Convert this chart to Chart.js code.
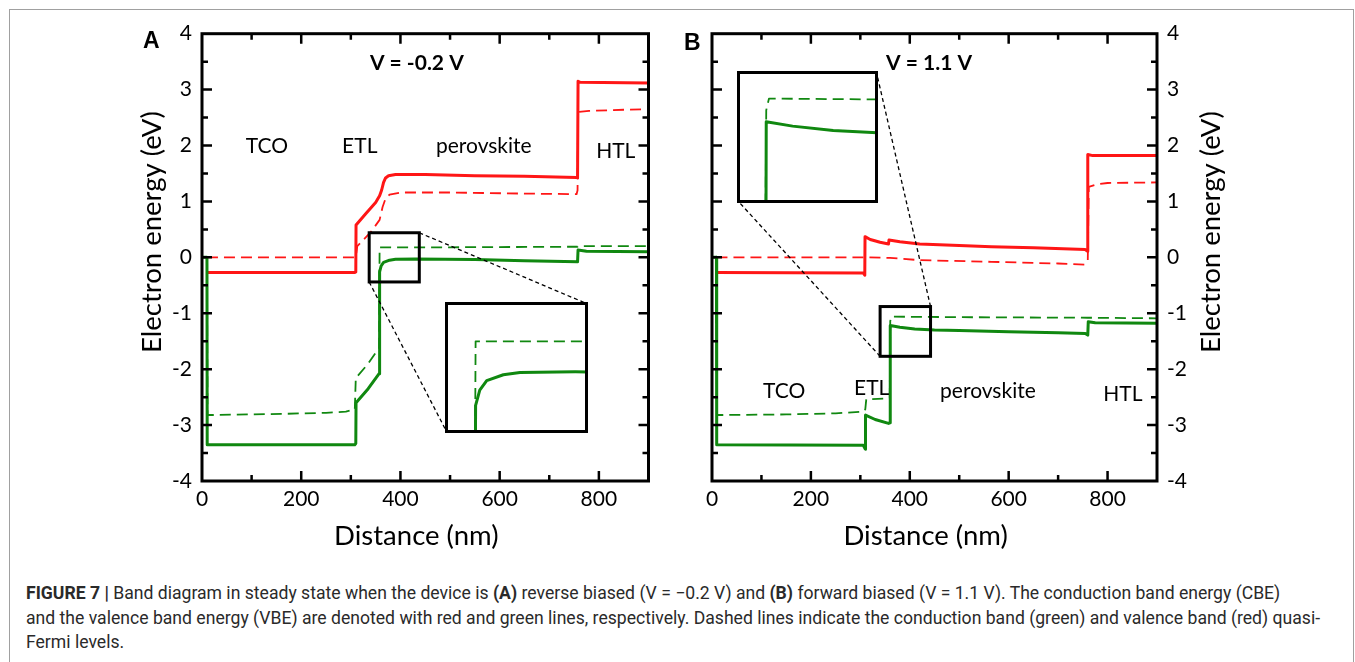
<!DOCTYPE html>
<html>
<head>
<meta charset="utf-8">
<title>Band diagram in steady state</title>
<script src="https://cdn.jsdelivr.net/npm/chart.js@4.4.1/dist/chart.umd.min.js"></script>
<style>
  html, body { margin: 0; padding: 0; background: #fff; }
  body { width: 1355px; height: 662px; position: relative; overflow: hidden; }
  .frame { position: absolute; left: 9px; top: 9px; width: 1343px; height: 720px; border: 1px solid #a0a0a0; }
  canvas { position: absolute; }
  #bandA { left: 0; top: 0; }
  #bandB { left: 680px; top: 0; }
  .panel { position: absolute; font: bold 23px Arial, "Liberation Sans", sans-serif; line-height: 23px; color: #000; }
  .caption { position: absolute; left: 26px; top: 581px; font: 17.6px Roboto, sans-serif; line-height: 24.5px; color: #2a2a2a; white-space: nowrap; }
</style>
</head>
<body>
<div class="frame"></div>
<canvas id="bandA" width="680" height="560"></canvas>
<canvas id="bandB" width="675" height="560"></canvas>
<canvas id="zoomA"></canvas>
<canvas id="zoomB"></canvas>
<div class="panel" style="left:143px; top:29px">A</div>
<div class="panel" style="left:684px; top:31px">B</div>
<div class="caption"><b>FIGURE 7 |</b> Band diagram in steady state when the device is <b>(A)</b> reverse biased (V = −0.2 V) and <b>(B)</b> forward biased (V = 1.1 V). The conduction band energy (CBE)<br>and the valence band energy (VBE) are denoted with red and green lines, respectively. Dashed lines indicate the conduction band (green) and valence band (red) quasi-<br>Fermi levels.</div>

<script>
// ---- data: [distance (nm), energy (eV)] ----

// (A) reverse bias, V = -0.2 V
const cbeA = [[10, -0.27], [308, -0.27], [310, -0.26], [310.5, 0.58], [330, 0.78], [350, 0.98], [358, 1.1],
  [362, 1.2], [366, 1.34], [370, 1.42], [376, 1.46], [390, 1.48], [450, 1.48], [550, 1.46], [650, 1.45],
  [755, 1.43], [757, 1.42], [758, 3.15], [762, 3.13], [900, 3.12]];
const valenceFermiA = [[10, 0], [310, 0], [313, 0.2], [340, 0.45], [358, 0.67], [364, 0.9], [370, 1.05],
  [378, 1.12], [400, 1.16], [500, 1.16], [650, 1.14], [755, 1.13], [757, 1.2], [758, 2.6], [780, 2.62],
  [850, 2.64], [900, 2.65]];
const vbeA = [[0, 0], [10, 0], [10.5, -3.35], [308, -3.35], [310, -3.33], [310.5, -2.6], [335, -2.35],
  [357, -2.08], [358, -0.26], [361, -0.155], [366, -0.09], [378, -0.05], [390, -0.035], [430, -0.03],
  [550, -0.04], [650, -0.06], [757, -0.08], [758, 0.13], [775, 0.11], [900, 0.1]];
const conductionFermiA = [[10, 0], [11, -2.82], [20, -2.82], [160, -2.8], [250, -2.78], [290, -2.76],
  [308, -2.72], [310, -2.16], [335, -1.9], [357, -1.62], [358, 0.18], [500, 0.18], [757, 0.19],
  [758, 0.2], [900, 0.2]];

// (B) forward bias, V = 1.1 V
const cbeB = [[9, -0.27], [306, -0.28], [309, -0.32], [309.5, 0.37], [320, 0.32], [340, 0.27], [357, 0.24],
  [358, 0.31], [380, 0.28], [420, 0.24], [500, 0.21], [565, 0.19], [650, 0.17], [755, 0.14], [759, 0.11],
  [760, 1.84], [770, 1.82], [900, 1.82]];
const valenceFermiB = [[9, 0], [310, 0], [360, -0.01], [420, -0.05], [565, -0.08], [700, -0.11],
  [754, -0.13], [760, -0.05], [762, 1.26], [780, 1.31], [800, 1.33], [900, 1.34]];
const vbeB = [[0, 0], [9, 0], [9.5, -3.35], [306, -3.36], [310, -3.43], [310.5, -2.82], [330, -2.9],
  [357, -2.97], [360, -2.96], [360.5, -1.22], [380, -1.25], [410, -1.28], [450, -1.3], [500, -1.31],
  [600, -1.33], [700, -1.35], [755, -1.36], [760, -1.39], [761, -1.15], [775, -1.17], [900, -1.18]];
const conductionFermiB = [[9, 0], [10, -2.82], [20, -2.82], [150, -2.81], [250, -2.79], [305, -2.76],
  [310, -2.72], [312, -2.54], [359.5, -2.52], [360.5, -1.14], [362.5, -1.06], [500, -1.07], [760, -1.08],
  [900, -1.09]];

// magnified windows (nm, eV)
const zoomRangeA = { x: [337, 438], y: [-0.44, 0.44] };
const zoomRangeB = { x: [340, 442], y: [-1.77, -0.88] };

// axes
const distanceRange = [0, 900];
const energyRange = [-4, 4];

// ---- styling / layout ----
const RED = 'rgb(255, 22, 22)';
const GREEN = 'rgb(16, 136, 16)';
const tickFont = { family: 'Lato', size: 21 };
const titleSize = 27.5;

// page positions of the magnified boxes (line centres)
const insetA = { left: 446.5, top: 303.5, right: 586.5, bottom: 431.5 };
const insetB = { left: 738.5, top: 72.5, right: 876.5, bottom: 201.5 };

function line(points, color, dashed) {
  return {
    data: points.map(([x, y]) => ({ x, y })),
    borderColor: color,
    borderWidth: dashed ? 1.8 : 3,
    borderDash: dashed ? [11, 6] : [],
    borderJoinStyle: 'round',
    pointRadius: 0,
    tension: 0,
    fill: false
  };
}

function midpoints(vals) {
  const out = [];
  for (let i = 0; i < vals.length - 1; i++) out.push((vals[i] + vals[i + 1]) / 2);
  return out;
}

// frame, inward ticks, labels, zoom box + connectors, axis titles
function bandDecor(cfg) {
  return {
    id: 'bandDecor',
    afterDatasetsDraw(chart) {
      const { ctx, chartArea: a, scales: { x, y } } = chart;
      ctx.save();

      // region / bias labels
      ctx.fillStyle = '#000';
      ctx.textAlign = 'center';
      ctx.textBaseline = 'alphabetic';
      cfg.notes.forEach(n => {
        ctx.font = (n.bold ? 'bold ' : '') + (n.size || 21) + 'px Lato';
        ctx.fillText(n.text, x.getPixelForValue(n.x), y.getPixelForValue(n.y));
      });

      // zoom window + dashed connectors to the inset
      const zl = x.getPixelForValue(cfg.zoom.x[0]), zr = x.getPixelForValue(cfg.zoom.x[1]);
      const zt = y.getPixelForValue(cfg.zoom.y[1]), zb = y.getPixelForValue(cfg.zoom.y[0]);
      const ins = cfg.inset, off = cfg.offsetX;
      ctx.strokeStyle = '#000';
      ctx.lineWidth = 1.3;
      ctx.setLineDash([4, 3]);
      ctx.beginPath();
      ctx.moveTo(zr, zt); ctx.lineTo(ins.right - off, ins.top);
      ctx.moveTo(zl, zb); ctx.lineTo(ins.left - off, ins.bottom);
      ctx.stroke();
      ctx.setLineDash([]);
      ctx.lineWidth = 3;
      ctx.strokeRect(zl, zt, zr - zl, zb - zt);

      // box frame
      ctx.strokeRect(a.left, a.top, a.right - a.left, a.bottom - a.top);

      // inward major + minor ticks on all four sides
      ctx.lineWidth = 2.5;
      ctx.beginPath();
      const xMajor = x.ticks.map(t => t.value);
      const yMajor = y.ticks.map(t => t.value);
      const xTicks = xMajor.map(v => [v, 10]).concat(midpoints(xMajor).map(v => [v, 6]));
      const yTicks = yMajor.map(v => [v, 10]).concat(midpoints(yMajor).map(v => [v, 6]));
      xTicks.forEach(([v, len]) => {
        if (v <= x.min || v >= x.max) return;
        const px = x.getPixelForValue(v);
        ctx.moveTo(px, a.bottom); ctx.lineTo(px, a.bottom - len);
        ctx.moveTo(px, a.top); ctx.lineTo(px, a.top + len);
      });
      yTicks.forEach(([v, len]) => {
        if (v <= y.min || v >= y.max) return;
        const py = y.getPixelForValue(v);
        ctx.moveTo(a.left, py); ctx.lineTo(a.left + len, py);
        ctx.moveTo(a.right, py); ctx.lineTo(a.right - len, py);
      });
      ctx.stroke();

      // axis titles
      ctx.font = titleSize + 'px Lato';
      ctx.textBaseline = 'middle';
      ctx.fillText('Distance (nm)', x.getPixelForValue(cfg.xTitleAt), a.bottom + 55);
      const tx = cfg.titleSide === 'left' ? a.left - cfg.titleGap : a.right + cfg.titleGap;
      ctx.translate(tx, cfg.titleY);
      ctx.rotate(-Math.PI / 2);
      ctx.fillText('Electron energy (eV)', 0, 0);
      ctx.restore();
    }
  };
}

function bandChart(id, series, opts) {
  return new Chart(document.getElementById(id), {
    type: 'line',
    data: { datasets: series },
    options: {
      responsive: false,
      animation: false,
      devicePixelRatio: 1,
      layout: { padding: opts.padding },
      plugins: { legend: { display: false }, tooltip: { enabled: false } },
      scales: {
        x: {
          type: 'linear',
          min: distanceRange[0],
          max: distanceRange[1],
          grid: { display: false, drawTicks: false },
          border: { display: false },
          ticks: { stepSize: 200, includeBounds: false, padding: 6, font: tickFont, color: '#000' },
          afterFit(s) { s.height = 70; }
        },
        y: {
          type: 'linear',
          position: opts.yPosition,
          min: energyRange[0],
          max: energyRange[1],
          grid: { display: false, drawTicks: false },
          border: { display: false },
          ticks: { stepSize: 1, padding: 10, font: tickFont, color: '#000' },
          afterFit(s) { s.width = 66; }
        }
      }
    },
    plugins: [bandDecor(opts.decor)]
  });
}

function zoomChart(id, box, range, series) {
  const el = document.getElementById(id);
  el.width = Math.round(box.right - box.left + 3);
  el.height = Math.round(box.bottom - box.top + 3);
  el.style.left = (box.left - 1.5) + 'px';
  el.style.top = (box.top - 1.5) + 'px';
  return new Chart(el, {
    type: 'line',
    data: { datasets: series },
    options: {
      responsive: false,
      animation: false,
      devicePixelRatio: 1,
      layout: { padding: 1.5 },
      plugins: { legend: { display: false }, tooltip: { enabled: false } },
      scales: {
        x: { type: 'linear', display: false, min: range.x[0], max: range.x[1] },
        y: { type: 'linear', display: false, min: range.y[0], max: range.y[1] }
      }
    },
    plugins: [{
      id: 'zoomFrame',
      beforeDraw(c) {
        c.ctx.save();
        c.ctx.fillStyle = '#fff';
        c.ctx.fillRect(0, 0, c.width, c.height);
        c.ctx.restore();
      },
      afterDraw(c) {
        const a = c.chartArea;
        c.ctx.save();
        c.ctx.lineWidth = 3;
        c.ctx.strokeStyle = '#000';
        c.ctx.strokeRect(a.left, a.top, a.right - a.left, a.bottom - a.top);
        c.ctx.restore();
      }
    }]
  });
}

bandChart('bandA', [
  line(vbeA, GREEN, false),
  line(cbeA, RED, false),
  line(conductionFermiA, GREEN, true),
  line(valenceFermiA, RED, true)
], {
  yPosition: 'left',
  padding: { left: 136, right: 31.5, top: 33.7, bottom: 9 },
  decor: {
    zoom: zoomRangeA, inset: insetA, offsetX: 0,
    titleSide: 'left', titleGap: 50, titleY: 232, xTitleAt: 432,
    notes: [
      { text: 'V = -0.2 V', x: 433, y: 3.35, bold: true, size: 21 },
      { text: 'TCO', x: 131, y: 1.86 },
      { text: 'ETL', x: 318, y: 1.86 },
      { text: 'perovskite', x: 568, y: 1.86 },
      { text: 'HTL', x: 834, y: 1.78 }
    ]
  }
});

bandChart('bandB', [
  line(vbeB, GREEN, false),
  line(cbeB, RED, false),
  line(conductionFermiB, GREEN, true),
  line(valenceFermiB, RED, true)
], {
  yPosition: 'right',
  padding: { left: 32, right: 132, top: 33.7, bottom: 9 },
  decor: {
    zoom: zoomRangeB, inset: insetB, offsetX: 680,
    titleSide: 'right', titleGap: 54, titleY: 232, xTitleAt: 432,
    notes: [
      { text: 'V = 1.1 V', x: 439, y: 3.35, bold: true, size: 21 },
      { text: 'TCO', x: 146, y: -2.52 },
      { text: 'ETL', x: 323, y: -2.46 },
      { text: 'perovskite', x: 558, y: -2.52 },
      { text: 'HTL', x: 831, y: -2.57 }
    ]
  }
});

zoomChart('zoomA', insetA, zoomRangeA, [line(vbeA, GREEN, false), line(conductionFermiA, GREEN, true)]);
zoomChart('zoomB', insetB, zoomRangeB, [line(vbeB, GREEN, false), line(conductionFermiB, GREEN, true)]);
</script>
</body>
</html>
